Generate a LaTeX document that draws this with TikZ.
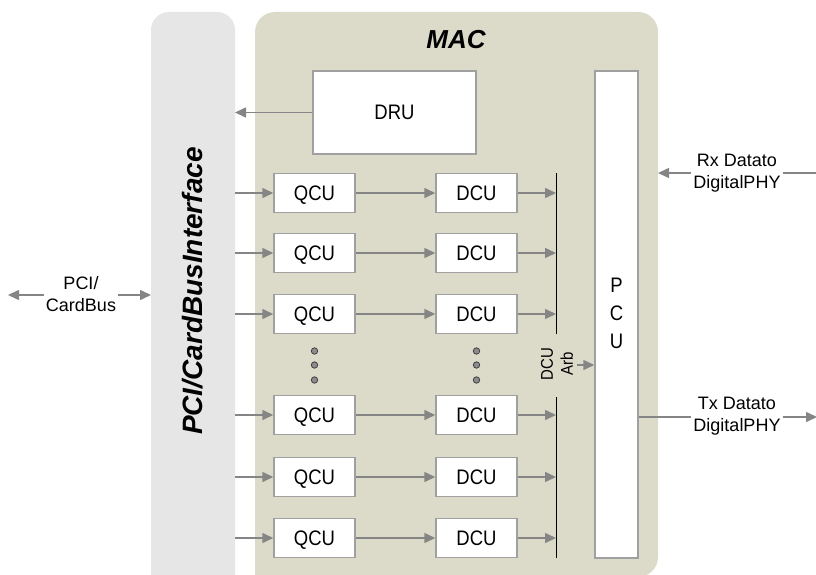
\documentclass[tikz,border=0pt]{standalone}
\usepackage{fontspec}
\setmainfont{Liberation Sans}
\newfontfamily\narrowfont[FakeStretch=0.88]{Liberation Sans}
\usetikzlibrary{arrows.meta}
\definecolor{busgray}{HTML}{E6E6E6}
\definecolor{macfill}{HTML}{DCDBC9}
\definecolor{edgegray}{HTML}{A0A0A0}
\definecolor{arrowgray}{HTML}{858585}
\definecolor{dotgray}{HTML}{8C8C8C}
\tikzset{
	unit/.style={draw=edgegray, line width=1.5pt, fill=white, minimum width=81pt, minimum height=39pt, inner sep=0pt, text height=15pt, text depth=0pt, font=\narrowfont\fontsize{21}{24}\selectfont},
	flow/.style={draw=arrowgray, line width=1.5pt, -{Triangle[length=11pt,width=10pt]}},
	plain/.style={draw=arrowgray, line width=1.5pt},
	sidelabel/.style={align=center, inner sep=2pt, font=\fontsize{18}{22}\selectfont},
}
\begin{document}
\begin{tikzpicture}[x=1pt, y=-1pt]
	\useasboundingbox (0,0) rectangle (816,575);
	\fill[busgray, rounded corners=18] (151,600) -- (151,12) -- (235,12) -- (235,600);
	\fill[macfill, rounded corners=20] (255,600) -- (255,12) -- (658,12) -- (658,577) -- (255,577) -- cycle;
	\node (mac) at (456,40) {\fontsize{26}{30}\selectfont\bfseries\itshape MAC};
	\node (buslbl) at (193,291) [rotate=90] {\fontsize{28}{32}\selectfont\bfseries\itshape PCI/CardBusInterface};
	% units
	\node[unit, minimum width=163pt, minimum height=83pt] (dru) at (394.5,112.5) {DRU};
	\node[unit, minimum width=43pt, minimum height=487pt] (pcu) at (616.5,314.5) {};
	\node[align=center, font=\narrowfont\fontsize{21}{28}\selectfont] (pcutxt) at (616.5,313) {P\\C\\U};
	\node[unit] (qcuA) at (314.5,193) {QCU};
	\node[unit] (qcuB) at (314.5,253) {QCU};
	\node[unit] (qcuC) at (314.5,314) {QCU};
	\node[unit] (qcuD) at (314.5,415) {QCU};
	\node[unit] (qcuE) at (314.5,477) {QCU};
	\node[unit] (qcuF) at (314.5,538) {QCU};
	\node[unit] (dcuA) at (476.5,193) {DCU};
	\node[unit] (dcuB) at (476.5,253) {DCU};
	\node[unit] (dcuC) at (476.5,314) {DCU};
	\node[unit] (dcuD) at (476.5,415) {DCU};
	\node[unit] (dcuE) at (476.5,477) {DCU};
	\node[unit] (dcuF) at (476.5,538) {DCU};
	% arbiter
	\coordinate (arbtop) at (556,173);
	\coordinate (arbmidA) at (556,334);
	\coordinate (arbmidB) at (556,397);
	\coordinate (arbbot) at (556,558);
	\draw[black, line width=1pt] (arbtop) -- (arbmidA);
	\draw[black, line width=1pt] (arbmidB) -- (arbbot);
	\node[rotate=90, align=center, inner sep=1pt, font=\narrowfont\fontsize{17}{20}\selectfont] (arb) at (557,364) {DCU\\Arb};
	\coordinate (arbout) at (577,365);
	\draw[flow] (arbout) -- (pcu.west |- arbout);
	% bus to qcu
	\draw[flow] (235,193) -- (qcuA.west);
	\draw[flow] (235,253) -- (qcuB.west);
	\draw[flow] (235,314) -- (qcuC.west);
	\draw[flow] (235,415) -- (qcuD.west);
	\draw[flow] (235,477) -- (qcuE.west);
	\draw[flow] (235,538) -- (qcuF.west);
	\draw[flow] (qcuA) -- (dcuA);
	\draw[flow] (qcuB) -- (dcuB);
	\draw[flow] (qcuC) -- (dcuC);
	\draw[flow] (qcuD) -- (dcuD);
	\draw[flow] (qcuE) -- (dcuE);
	\draw[flow] (qcuF) -- (dcuF);
	\draw[flow] (dcuA.east) -- (arbtop |- dcuA);
	\draw[flow] (dcuB.east) -- (arbtop |- dcuB);
	\draw[flow] (dcuC.east) -- (arbtop |- dcuC);
	\draw[flow] (dcuD.east) -- (arbtop |- dcuD);
	\draw[flow] (dcuE.east) -- (arbtop |- dcuE);
	\draw[flow] (dcuF.east) -- (arbtop |- dcuF);
	\coordinate (druout) at (235,112.5);
	\draw[flow] (dru.west) -- (druout);
	% dots
	\filldraw[fill=dotgray, draw=black!75, line width=0.8pt] (314.5,351) circle (3.2);
	\filldraw[fill=dotgray, draw=black!75, line width=0.8pt] (314.5,365) circle (3.2);
	\filldraw[fill=dotgray, draw=black!75, line width=0.8pt] (314.5,380) circle (3.2);
	\filldraw[fill=dotgray, draw=black!75, line width=0.8pt] (476.5,351) circle (3.2);
	\filldraw[fill=dotgray, draw=black!75, line width=0.8pt] (476.5,365) circle (3.2);
	\filldraw[fill=dotgray, draw=black!75, line width=0.8pt] (476.5,380) circle (3.2);
	% outside
	\node[sidelabel] (pcilbl) at (81,294) {PCI/\\CardBus};
	\coordinate (pciend) at (8,295);
	\coordinate (busin) at (151,295);
	\draw[flow] (pcilbl.west |- pciend) -- (pciend);
	\draw[flow] (pcilbl.east |- busin) -- (busin);
	\node[sidelabel] (rxlbl) at (737,173) {Rx Datato\\DigitalPHY};
	\coordinate (rxend) at (816,173);
	\coordinate (rxin) at (658,173);
	\draw[plain] (rxend) -- (rxlbl.east);
	\draw[flow] (rxlbl.west) -- (rxin);
	\node[sidelabel] (txlbl) at (737,416) {Tx Datato\\DigitalPHY};
	\coordinate (txend) at (817,417);
	\draw[plain] (pcu.east |- txend) -- (txlbl.west |- txend);
	\draw[flow] (txlbl.east |- txend) -- (txend);
\end{tikzpicture}
\end{document}
